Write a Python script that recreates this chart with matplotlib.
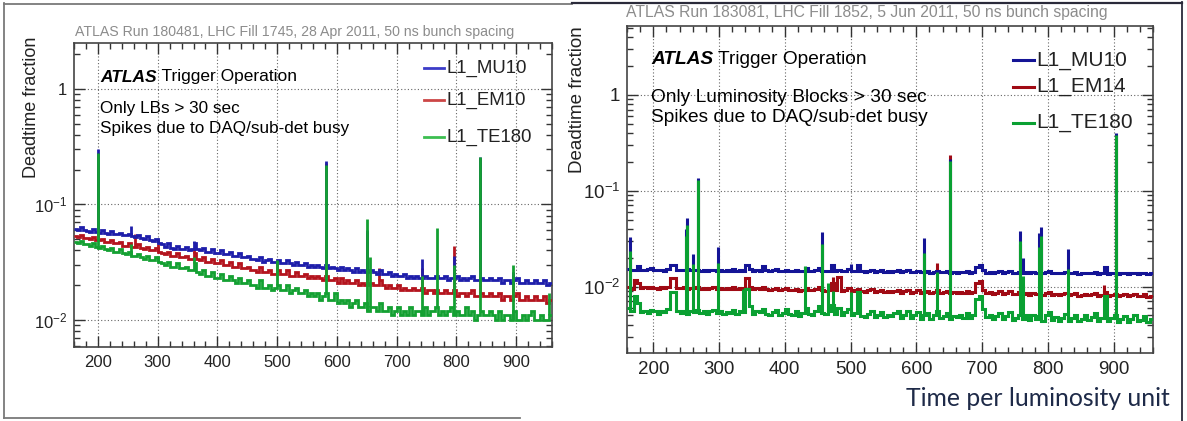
import numpy as np
import matplotlib
matplotlib.use("Agg")
import matplotlib.pyplot as plt
from matplotlib.lines import Line2D
from matplotlib.ticker import MultipleLocator, FixedLocator, LogLocator, NullFormatter

plt.rcParams['font.family'] = ['Liberation Sans', 'DejaVu Sans']
plt.rcParams['mathtext.fontset'] = 'custom'
plt.rcParams['mathtext.rm'] = 'Liberation Sans'
plt.rcParams['mathtext.it'] = 'Liberation Sans:italic'
plt.rcParams['mathtext.bf'] = 'Liberation Sans:bold'

W, H = 1187, 421

# ---- data: deadtime fraction per 5-unit bin, 160..960 ----
bin_lo, bin_hi, bin_w = 160, 960, 5

# left plot: Run 180481
left_mu10 = [
    0.061, 0.060, 0.064, 0.060, 0.059, 0.058, 0.061, 0.058, 0.057, 0.060, 0.057, 0.056, 0.059, 0.056, 0.055, 0.057, 0.054, 0.054, 0.056, 0.053,
    0.052, 0.054, 0.051, 0.050, 0.053, 0.049, 0.048, 0.050, 0.046, 0.045, 0.043, 0.046, 0.042, 0.041, 0.044, 0.041, 0.041, 0.043, 0.040, 0.041,
    0.046, 0.041, 0.040, 0.042, 0.039, 0.039, 0.041, 0.038, 0.038, 0.040, 0.037, 0.037, 0.039, 0.036, 0.036, 0.038, 0.035, 0.035, 0.036, 0.034,
    0.034, 0.033, 0.035, 0.032, 0.033, 0.034, 0.032, 0.032, 0.033, 0.031, 0.031, 0.033, 0.031, 0.030, 0.032, 0.030, 0.030, 0.031, 0.029, 0.030,
    0.029, 0.030, 0.029, 0.028, 0.030, 0.028, 0.029, 0.028, 0.027, 0.029, 0.027, 0.028, 0.027, 0.026, 0.028, 0.026, 0.027, 0.026, 0.026, 0.027,
    0.026, 0.025, 0.027, 0.025, 0.025, 0.026, 0.024, 0.025, 0.024, 0.024, 0.025, 0.023, 0.024, 0.023, 0.024, 0.023, 0.023, 0.024, 0.023, 0.023,
    0.023, 0.024, 0.023, 0.023, 0.024, 0.022, 0.023, 0.023, 0.024, 0.022, 0.023, 0.022, 0.023, 0.024, 0.022, 0.022, 0.023, 0.022, 0.022, 0.023,
    0.022, 0.022, 0.023, 0.021, 0.022, 0.022, 0.021, 0.022, 0.023, 0.021, 0.021, 0.022, 0.021, 0.021, 0.022, 0.021, 0.021, 0.022, 0.020, 0.021,
]
left_em10 = [
    0.053, 0.052, 0.054, 0.051, 0.051, 0.050, 0.052, 0.049, 0.049, 0.050, 0.047, 0.047, 0.049, 0.046, 0.046, 0.047, 0.044, 0.044, 0.046, 0.043,
    0.043, 0.045, 0.042, 0.041, 0.043, 0.040, 0.040, 0.042, 0.039, 0.038, 0.037, 0.039, 0.036, 0.036, 0.038, 0.035, 0.035, 0.036, 0.034, 0.034,
    0.038, 0.034, 0.033, 0.035, 0.032, 0.032, 0.034, 0.031, 0.031, 0.033, 0.030, 0.030, 0.032, 0.029, 0.029, 0.031, 0.028, 0.028, 0.029, 0.027,
    0.027, 0.026, 0.029, 0.026, 0.026, 0.027, 0.025, 0.025, 0.027, 0.025, 0.025, 0.027, 0.024, 0.024, 0.026, 0.024, 0.024, 0.025, 0.023, 0.024,
    0.023, 0.024, 0.023, 0.022, 0.024, 0.022, 0.022, 0.023, 0.021, 0.023, 0.021, 0.022, 0.021, 0.021, 0.022, 0.020, 0.021, 0.020, 0.020, 0.021,
    0.020, 0.020, 0.022, 0.020, 0.019, 0.020, 0.019, 0.019, 0.020, 0.018, 0.019, 0.018, 0.018, 0.019, 0.018, 0.018, 0.019, 0.017, 0.018, 0.018,
    0.017, 0.018, 0.017, 0.017, 0.018, 0.017, 0.017, 0.018, 0.016, 0.017, 0.017, 0.016, 0.017, 0.018, 0.016, 0.016, 0.017, 0.016, 0.016, 0.017,
    0.016, 0.016, 0.017, 0.015, 0.016, 0.016, 0.015, 0.016, 0.017, 0.015, 0.015, 0.016, 0.015, 0.015, 0.016, 0.015, 0.015, 0.016, 0.014, 0.015,
]
left_te180 = [
    0.047, 0.046, 0.048, 0.045, 0.045, 0.044, 0.046, 0.043, 0.042, 0.044, 0.041, 0.040, 0.042, 0.039, 0.039, 0.041, 0.038, 0.037, 0.039, 0.036,
    0.036, 0.037, 0.035, 0.034, 0.036, 0.033, 0.033, 0.035, 0.032, 0.031, 0.030, 0.032, 0.029, 0.029, 0.031, 0.028, 0.028, 0.029, 0.027, 0.027,
    0.031, 0.026, 0.025, 0.027, 0.024, 0.024, 0.026, 0.023, 0.023, 0.025, 0.022, 0.022, 0.024, 0.022, 0.021, 0.023, 0.021, 0.021, 0.022, 0.020,
    0.020, 0.019, 0.022, 0.019, 0.019, 0.020, 0.018, 0.019, 0.020, 0.018, 0.018, 0.020, 0.017, 0.018, 0.019, 0.017, 0.017, 0.018, 0.016, 0.017,
    0.016, 0.017, 0.015, 0.016, 0.017, 0.015, 0.015, 0.017, 0.014, 0.015, 0.014, 0.015, 0.013, 0.014, 0.015, 0.013, 0.013, 0.014, 0.012, 0.013,
    0.013, 0.012, 0.014, 0.012, 0.012, 0.013, 0.011, 0.012, 0.013, 0.011, 0.012, 0.011, 0.013, 0.011, 0.012, 0.012, 0.011, 0.013, 0.011, 0.012,
    0.012, 0.013, 0.011, 0.012, 0.011, 0.012, 0.013, 0.011, 0.012, 0.011, 0.011, 0.013, 0.011, 0.012, 0.010, 0.011, 0.012, 0.011, 0.011, 0.012,
    0.011, 0.010, 0.012, 0.010, 0.011, 0.011, 0.010, 0.012, 0.010, 0.010, 0.011, 0.010, 0.011, 0.012, 0.010, 0.010, 0.011, 0.010, 0.010, 0.011,
]
# spikes (x, peak)
left_mu10_spikes = [(200, 0.30), (255, 0.065), (300, 0.050), (360, 0.048), (500, 0.033), (582, 0.24),
                    (650, 0.060), (742, 0.034), (796, 0.036), (840, 0.26), (894, 0.026)]
left_em10_spikes = [(200, 0.28), (262, 0.055), (300, 0.045), (360, 0.042), (500, 0.032), (582, 0.23),
                    (650, 0.058), (670, 0.028), (742, 0.028), (796, 0.044), (840, 0.25), (894, 0.026)]
left_te180_spikes = [(200, 0.28), (255, 0.045), (300, 0.036), (360, 0.035), (500, 0.033), (582, 0.22),
                     (650, 0.075), (655, 0.035), (742, 0.024), (767, 0.062), (796, 0.030), (840, 0.255),
                     (894, 0.030), (955, 0.017)]

# right plot: Run 183081
right_mu10 = [
    0.0152, 0.0150, 0.0148, 0.0165, 0.0150, 0.0149, 0.0151, 0.0158, 0.0149, 0.0148, 0.0150, 0.0147, 0.0152, 0.0168, 0.0168, 0.0150, 0.0148, 0.0149, 0.0151, 0.0149,
    0.0148, 0.0150, 0.0147, 0.0149, 0.0146, 0.0148, 0.0150, 0.0147, 0.0149, 0.0146, 0.0148, 0.0147, 0.0152, 0.0146, 0.0148, 0.0147, 0.0168, 0.0153, 0.0146, 0.0148,
    0.0147, 0.0162, 0.0150, 0.0146, 0.0148, 0.0152, 0.0145, 0.0147, 0.0150, 0.0146, 0.0145, 0.0148, 0.0144, 0.0147, 0.0156, 0.0145, 0.0146, 0.0149, 0.0155, 0.0146,
    0.0144, 0.0147, 0.0166, 0.0145, 0.0148, 0.0144, 0.0147, 0.0152, 0.0144, 0.0146, 0.0168, 0.0145, 0.0143, 0.0146, 0.0150, 0.0143, 0.0145, 0.0148, 0.0143, 0.0146,
    0.0142, 0.0145, 0.0150, 0.0142, 0.0144, 0.0148, 0.0141, 0.0143, 0.0146, 0.0141, 0.0143, 0.0145, 0.0140, 0.0143, 0.0147, 0.0141, 0.0142, 0.0145, 0.0140, 0.0142,
    0.0140, 0.0143, 0.0141, 0.0145, 0.0140, 0.0142, 0.0160, 0.0166, 0.0148, 0.0140, 0.0143, 0.0139, 0.0141, 0.0144, 0.0139, 0.0141, 0.0146, 0.0139, 0.0140, 0.0143,
    0.0139, 0.0141, 0.0138, 0.0142, 0.0139, 0.0140, 0.0137, 0.0141, 0.0144, 0.0138, 0.0140, 0.0137, 0.0139, 0.0142, 0.0137, 0.0139, 0.0141, 0.0136, 0.0138, 0.0140,
    0.0137, 0.0139, 0.0142, 0.0136, 0.0138, 0.0160, 0.0136, 0.0138, 0.0140, 0.0136, 0.0137, 0.0139, 0.0135, 0.0137, 0.0140, 0.0135, 0.0137, 0.0139, 0.0135, 0.0137,
]
right_em14 = [
    0.0098, 0.0095, 0.0118, 0.0110, 0.0097, 0.0099, 0.0096, 0.0098, 0.0097, 0.0095, 0.0098, 0.0096, 0.0099, 0.0124, 0.0124, 0.0097, 0.0096, 0.0098, 0.0095, 0.0097,
    0.0096, 0.0098, 0.0095, 0.0097, 0.0094, 0.0096, 0.0098, 0.0095, 0.0097, 0.0094, 0.0096, 0.0095, 0.0098, 0.0094, 0.0096, 0.0095, 0.0123, 0.0100, 0.0094, 0.0096,
    0.0095, 0.0100, 0.0094, 0.0092, 0.0095, 0.0097, 0.0092, 0.0094, 0.0096, 0.0093, 0.0091, 0.0094, 0.0090, 0.0093, 0.0096, 0.0091, 0.0092, 0.0095, 0.0098, 0.0092,
    0.0090, 0.0093, 0.0108, 0.0091, 0.0125, 0.0090, 0.0093, 0.0097, 0.0090, 0.0092, 0.0095, 0.0089, 0.0088, 0.0091, 0.0094, 0.0088, 0.0090, 0.0093, 0.0088, 0.0090,
    0.0087, 0.0090, 0.0093, 0.0086, 0.0089, 0.0092, 0.0086, 0.0088, 0.0091, 0.0086, 0.0088, 0.0090, 0.0085, 0.0088, 0.0092, 0.0086, 0.0087, 0.0090, 0.0085, 0.0087,
    0.0085, 0.0088, 0.0086, 0.0090, 0.0085, 0.0087, 0.0110, 0.0114, 0.0092, 0.0085, 0.0088, 0.0084, 0.0086, 0.0089, 0.0084, 0.0086, 0.0090, 0.0083, 0.0084, 0.0087,
    0.0083, 0.0085, 0.0082, 0.0086, 0.0083, 0.0084, 0.0081, 0.0085, 0.0088, 0.0082, 0.0084, 0.0081, 0.0083, 0.0086, 0.0081, 0.0083, 0.0085, 0.0080, 0.0082, 0.0084,
    0.0081, 0.0083, 0.0086, 0.0080, 0.0082, 0.0088, 0.0080, 0.0082, 0.0084, 0.0079, 0.0081, 0.0083, 0.0079, 0.0081, 0.0084, 0.0079, 0.0080, 0.0083, 0.0078, 0.0080,
]
right_te180 = [
    0.0060, 0.0055, 0.0080, 0.0068, 0.0054, 0.0056, 0.0053, 0.0057, 0.0055, 0.0052, 0.0056, 0.0054, 0.0058, 0.0087, 0.0087, 0.0055, 0.0053, 0.0056, 0.0052, 0.0055,
    0.0054, 0.0057, 0.0053, 0.0056, 0.0052, 0.0055, 0.0057, 0.0053, 0.0056, 0.0052, 0.0054, 0.0053, 0.0057, 0.0052, 0.0055, 0.0054, 0.0094, 0.0062, 0.0052, 0.0055,
    0.0054, 0.0058, 0.0052, 0.0050, 0.0054, 0.0057, 0.0051, 0.0053, 0.0058, 0.0052, 0.0050, 0.0055, 0.0049, 0.0053, 0.0060, 0.0052, 0.0051, 0.0056, 0.0062, 0.0053,
    0.0052, 0.0055, 0.0065, 0.0052, 0.0060, 0.0050, 0.0054, 0.0058, 0.0050, 0.0053, 0.0088, 0.0049, 0.0048, 0.0052, 0.0056, 0.0048, 0.0050, 0.0054, 0.0048, 0.0051,
    0.0049, 0.0053, 0.0056, 0.0047, 0.0051, 0.0055, 0.0047, 0.0050, 0.0054, 0.0046, 0.0050, 0.0053, 0.0046, 0.0050, 0.0055, 0.0047, 0.0049, 0.0053, 0.0046, 0.0049,
    0.0048, 0.0051, 0.0047, 0.0053, 0.0047, 0.0050, 0.0075, 0.0080, 0.0058, 0.0048, 0.0051, 0.0046, 0.0049, 0.0053, 0.0046, 0.0049, 0.0054, 0.0045, 0.0047, 0.0051,
    0.0046, 0.0050, 0.0045, 0.0051, 0.0046, 0.0049, 0.0044, 0.0050, 0.0054, 0.0045, 0.0048, 0.0044, 0.0047, 0.0052, 0.0044, 0.0047, 0.0051, 0.0044, 0.0046, 0.0050,
    0.0045, 0.0048, 0.0053, 0.0044, 0.0047, 0.0080, 0.0044, 0.0047, 0.0050, 0.0043, 0.0046, 0.0049, 0.0043, 0.0046, 0.0050, 0.0044, 0.0045, 0.0049, 0.0043, 0.0046,
]
right_mu10_spikes = [(164, 0.033), (249, 0.040), (252, 0.052), (261, 0.022), (268, 0.137), (298, 0.026),
                     (430, 0.016), (457, 0.037), (500, 0.017), (612, 0.032), (651, 0.214), (757, 0.038),
                     (762, 0.0198), (787, 0.036), (790, 0.042), (831, 0.0248), (903, 0.40)]
right_em14_spikes = [(164, 0.020), (252, 0.045), (268, 0.13), (457, 0.028), (474, 0.0125), (612, 0.022),
                     (632, 0.0177), (651, 0.237), (757, 0.028), (762, 0.0105), (790, 0.030), (885, 0.0105),
                     (903, 0.38)]
right_te180_spikes = [(164, 0.0237), (249, 0.034), (252, 0.044), (261, 0.017), (268, 0.13), (298, 0.0175),
                      (337, 0.0094), (430, 0.0163), (457, 0.028), (465, 0.0110), (474, 0.009), (500, 0.0088),
                      (612, 0.0224), (632, 0.0143), (651, 0.205), (757, 0.030), (762, 0.013), (787, 0.026),
                      (790, 0.0337), (831, 0.0153), (885, 0.008), (903, 0.38)]

edges = np.arange(bin_lo, bin_hi + bin_w, bin_w)


def fx(x):
    return x / W


def fy(y):
    return 1 - y / H


def draw_series(ax, vals, spikes, color, lw, z):
    ax.stairs(vals, edges, baseline=None, color=color, lw=lw, zorder=z)
    xs = [s[0] for s in spikes]
    tops = [s[1] for s in spikes]
    bases = [vals[int((x - bin_lo) // bin_w)] for x in xs]
    ax.vlines(xs, bases, tops, color=color, lw=lw, zorder=z)


def style(ax, ylim, fs):
    ax.set_yscale('log')
    ax.set_xlim(bin_lo, bin_hi)
    ax.set_ylim(*ylim)
    ax.xaxis.set_major_locator(MultipleLocator(100))
    ax.xaxis.set_minor_locator(MultipleLocator(20))
    ax.yaxis.set_major_locator(FixedLocator([0.01, 0.1, 1]))
    ax.set_yticklabels([r'$10^{-2}$', r'$10^{-1}$', '1'])
    ax.yaxis.set_minor_locator(LogLocator(base=10, subs=np.arange(2, 10)))
    ax.yaxis.set_minor_formatter(NullFormatter())
    ax.tick_params(which='both', direction='in', top=True, right=True,
                   labelsize=fs, colors='#333333', labelcolor='#222222', width=1.0)
    ax.tick_params(which='major', length=8)
    ax.tick_params(which='minor', length=4.5)
    ax.tick_params(axis='x', pad=6)
    ax.tick_params(axis='y', pad=5)
    ax.grid(which='major', linestyle=(0, (1, 2)), color='#666666', lw=0.8)
    for sp in ax.spines.values():
        sp.set_color('#444444')
        sp.set_linewidth(1.2)


fig = plt.figure(figsize=(W / 100, H / 100), dpi=100)
fig.patch.set_facecolor('white')

# ---- left plot ----
axL = fig.add_axes([fx(74), fy(347), (552 - 74) / W, (347 - 43) / H])
style(axL, (0.00583, 2.5), 12)
draw_series(axL, left_em10, left_em10_spikes, '#b4141e', 2.0, 3)
draw_series(axL, left_mu10, left_mu10_spikes, '#1e1eaa', 2.0, 4)
draw_series(axL, left_te180, left_te180_spikes, '#14a032', 2.0, 5)

fig.text(fx(75), fy(32), 'ATLAS Run 180481, LHC Fill 1745, 28 Apr 2011, 50 ns bunch spacing',
         fontsize=10.2, color='#8c8c8c', va='center', ha='left')
fig.text(fx(32), fy(107), 'Deadtime fraction', rotation=90, fontsize=13, color='#222222',
         ha='center', va='center')
tL = fig.text(fx(100), fy(77), 'ATLAS', fontsize=12.5, fontweight='bold', fontstyle='italic',
              va='center', ha='left')
fig.text(fx(100), fy(108), 'Only LBs > 30 sec', fontsize=12.3, va='center', ha='left')
fig.text(fx(100), fy(128), 'Spikes due to DAQ/sub-det busy', fontsize=12.3, va='center', ha='left')

left_names = ['L1_MU10', 'L1_EM10', 'L1_TE180']
left_leg_colors = ['#3c3cc8', '#cc4646', '#3cbe50']
for name, col, yy in zip(left_names, left_leg_colors, [68, 100, 137]):
    fig.add_artist(Line2D([fx(424), fx(444)], [fy(yy), fy(yy)], color=col, lw=2))
    fig.text(fx(446), fy(yy), name, fontsize=13.4, va='center', ha='left', color='#222222')

# ---- right plot ----
axR = fig.add_axes([fx(627), fy(353), (1153 - 627) / W, (353 - 26) / H])
style(axR, (0.00203, 5.2), 13.5)
draw_series(axR, right_em14, right_em14_spikes, '#a00a14', 2.2, 3)
draw_series(axR, right_mu10, right_mu10_spikes, '#141496', 2.2, 4)
draw_series(axR, right_te180, right_te180_spikes, '#0aa032', 2.2, 5)

fig.text(fx(626), fy(13), 'ATLAS Run 183081, LHC Fill 1852, 5 Jun 2011, 50 ns bunch spacing',
         fontsize=11.3, color='#8c8c8c', va='center', ha='left')
fig.text(fx(578), fy(100), 'Deadtime fraction', rotation=90, fontsize=13.5, color='#222222',
         ha='center', va='center')
tR = fig.text(fx(651), fy(60), 'ATLAS', fontsize=13.8, fontweight='bold', fontstyle='italic',
              va='center', ha='left')
fig.text(fx(651), fy(97), 'Only Luminosity Blocks > 30 sec', fontsize=13.8, va='center', ha='left')
fig.text(fx(651), fy(117), 'Spikes due to DAQ/sub-det busy', fontsize=13.8, va='center', ha='left')

right_names = ['L1_MU10', 'L1_EM14', 'L1_TE180']
right_leg_colors = ['#141496', '#a00a14', '#0aa032']
for name, col, yy in zip(right_names, right_leg_colors, [60, 87, 123]):
    fig.add_artist(Line2D([fx(1013), fx(1034)], [fy(yy), fy(yy)], color=col, lw=2.2))
    fig.text(fx(1036), fy(yy), name, fontsize=15, va='center', ha='left', color='#222222')

fig.text(fx(1170), fy(398), 'Time per luminosity unit', fontsize=17.8, family=['Lato', 'DejaVu Sans'],
         color='#1e2a48', ha='right', va='center')

# ---- frames of the two pasted pictures ----
fig.add_artist(Line2D([fx(4), fx(4)], [fy(3), fy(418)], color='#7a7a7a', lw=1.3))
fig.add_artist(Line2D([fx(4), fx(572)], [fy(4), fy(4)], color='#7a7a7a', lw=1.3))
fig.add_artist(Line2D([fx(4), fx(520)], [fy(418), fy(418)], color='#7a7a7a', lw=1.3))
fig.add_artist(Line2D([fx(572), fx(1182)], [fy(2.5), fy(2.5)], color='#2a2a3a', lw=1.6))
fig.add_artist(Line2D([fx(1182), fx(1182)], [fy(2), fy(421)], color='#2a2a3a', lw=1.3))

# " Trigger Operation" placed right after the bold "ATLAS"
fig.canvas.draw()
renderer = fig.canvas.get_renderer()
for t, fs in [(tL, 12.5), (tR, 13.8)]:
    bb = t.get_window_extent(renderer=renderer)
    fig.text(bb.x1 / W, (bb.y0 + bb.y1) / 2 / H, ' Trigger Operation', fontsize=fs,
             va='center', ha='left')

fig.savefig('out.png', dpi=100)
